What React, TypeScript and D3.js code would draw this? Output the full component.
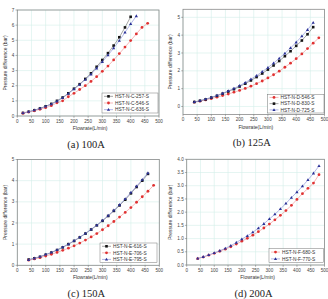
import * as d3 from "d3";

// flow rates (L/min)
const x20to400 = d3.range(20, 401, 20);
const x20to420 = d3.range(20, 421, 20);
const x20to460 = d3.range(20, 461, 20);
const x40to460 = d3.range(40, 461, 20);
const x40to480 = d3.range(40, 481, 20);

// (a) 100A pressure difference (bar)
const hstC257 = [0.2, 0.28, 0.38, 0.5, 0.64, 0.8, 1.0, 1.22, 1.5, 1.8, 2.1, 2.45, 2.82, 3.25, 3.7, 4.15, 4.65, 5.2, 5.85, 6.55];
const hstC546 = [0.18, 0.26, 0.34, 0.44, 0.55, 0.68, 0.87, 1.0, 1.27, 1.5, 1.75, 2.0, 2.28, 2.6, 2.95, 3.3, 3.7, 4.12, 4.55, 4.98, 5.42, 5.85, 6.12];
const hstC636 = [0.2, 0.28, 0.38, 0.5, 0.63, 0.78, 0.97, 1.2, 1.47, 1.77, 2.07, 2.4, 2.75, 3.15, 3.58, 4.02, 4.48, 4.98, 5.52, 6.08, 6.6];

// (b) 125A
const hstD546 = [0.24, 0.3, 0.37, 0.44, 0.52, 0.61, 0.7, 0.8, 0.9, 1.01, 1.14, 1.28, 1.43, 1.6, 1.78, 1.98, 2.2, 2.43, 2.68, 2.95, 3.25, 3.55, 3.85];
const hstD830 = [0.25, 0.32, 0.4, 0.5, 0.6, 0.72, 0.84, 0.97, 1.12, 1.28, 1.46, 1.65, 1.85, 2.07, 2.3, 2.55, 2.82, 3.1, 3.4, 3.7, 4.05, 4.45];
const hstD725 = [0.25, 0.32, 0.41, 0.51, 0.62, 0.74, 0.87, 1.01, 1.17, 1.34, 1.53, 1.73, 1.95, 2.18, 2.43, 2.7, 2.98, 3.28, 3.6, 3.94, 4.3, 4.7];

// (c) 150A
const hstE616 = [0.27, 0.33, 0.4, 0.5, 0.6, 0.72, 0.85, 1.0, 1.15, 1.32, 1.5, 1.69, 1.89, 2.1, 2.33, 2.57, 2.83, 3.1, 3.4, 3.7, 4.0, 4.32];
const hstE706 = [0.24, 0.3, 0.36, 0.44, 0.52, 0.61, 0.71, 0.81, 0.92, 1.05, 1.19, 1.34, 1.5, 1.68, 1.87, 2.07, 2.28, 2.5, 2.73, 2.98, 3.24, 3.5, 3.78];
const hstE795 = [0.26, 0.33, 0.41, 0.51, 0.61, 0.73, 0.86, 1.0, 1.16, 1.33, 1.51, 1.7, 1.9, 2.12, 2.35, 2.6, 2.86, 3.14, 3.44, 3.74, 4.05, 4.36];

// (d) 200A
const hstF680 = [0.24, 0.3, 0.37, 0.44, 0.52, 0.6, 0.69, 0.79, 0.9, 1.01, 1.13, 1.26, 1.4, 1.55, 1.71, 1.88, 2.06, 2.26, 2.48, 2.7, 2.9, 3.1, 3.42];
const hstF770 = [0.25, 0.31, 0.38, 0.46, 0.54, 0.63, 0.73, 0.85, 0.98, 1.1, 1.24, 1.39, 1.56, 1.74, 1.92, 2.12, 2.33, 2.55, 2.76, 2.98, 3.22, 3.47, 3.75];

const xTicks = d3.range(0, 501, 50);

const BLACK = "#141414";
const RED = "#e03232";
const BLUE = "#2a3196";
const LINE = { [BLACK]: "#6a6a6a", [RED]: "#f08a8a", [BLUE]: "#7d86d6" } as Record<string, string>;

type Shape = "square" | "circle" | "triangle";
type Series = { name: string; xs: number[]; ys: number[]; color: string; shape: Shape };

type PanelProps = {
    box: [number, number, number, number]; // left, top, right, bottom
    yDomain: [number, number];
    yTicks: number[];
    yFormat: (v: number) => string;
    series: Series[];
    legend: [number, number, number, number];
    caption: string;
    yLabelX: number;
};

const Marker = ({ x, y, color, shape }: { x: number; y: number; color: string; shape: Shape }) => {
    if (shape === "square") return <rect x={x - 1.3} y={y - 1.3} width={2.6} height={2.6} fill={color} />;
    if (shape === "circle") return <circle cx={x} cy={y} r={1.4} fill={color} />;
    return <path d={`M${x},${y - 1.7}L${x + 1.6},${y + 1.1}L${x - 1.6},${y + 1.1}Z`} fill={color} />;
};

const Panel = ({ box, yDomain, yTicks, yFormat, series, legend, caption, yLabelX }: PanelProps) => {
    const [l, t, r, b] = box;
    const x = d3.scaleLinear().domain([0, 500]).range([l, r]);
    const y = d3.scaleLinear().domain(yDomain).range([b, t]);
    const line = d3.line<[number, number]>().x((d) => x(d[0])).y((d) => y(d[1]));
    const [lx0, ly0, lx1, ly1] = legend;
    const rowH = (ly1 - ly0) / series.length;

    return (
        <g>
            {xTicks.map((v) => (
                <line key={"gx" + v} x1={x(v)} x2={x(v)} y1={t} y2={b} stroke="#d3efe9" strokeWidth={0.6} />
            ))}
            {yTicks.map((v) => (
                <line key={"gy" + v} x1={l} x2={r} y1={y(v)} y2={y(v)} stroke="#d3efe9" strokeWidth={0.6} />
            ))}
            <rect x={l} y={t} width={r - l} height={b - t} fill="none" stroke="#8a8a8a" strokeWidth={0.8} />
            {xTicks.map((v) => (
                <g key={"tx" + v}>
                    <line x1={x(v)} x2={x(v)} y1={b} y2={b + 1.8} stroke="#666" strokeWidth={0.5} />
                    <text x={x(v)} y={b + 6.5} fontSize={4.6} textAnchor="middle" fill="#444">{v}</text>
                </g>
            ))}
            {yTicks.map((v) => (
                <g key={"ty" + v}>
                    <line x1={l - 1.8} x2={l} y1={y(v)} y2={y(v)} stroke="#666" strokeWidth={0.5} />
                    <text x={l - 3} y={y(v) + 1.6} fontSize={4.6} textAnchor="end" fill="#444">{yFormat(v)}</text>
                </g>
            ))}
            <text x={(l + r) / 2 + 2} y={b + 14} fontSize={5} textAnchor="middle" fill="#333">Flowrate(L/min)</text>
            <text transform={`translate(${yLabelX},${(t + b) / 2}) rotate(-90)`} fontSize={5} textAnchor="middle" fill="#333">
                Pressure difference (bar)
            </text>
            {series.map((s) => {
                const pts = s.xs.map((v, i) => [v, s.ys[i]] as [number, number]);
                return (
                    <g key={s.name}>
                        <path d={line(pts) ?? ""} fill="none" stroke={LINE[s.color]} strokeWidth={0.6} />
                        {pts.map((p, i) => (
                            <Marker key={i} x={x(p[0])} y={y(p[1])} color={s.color} shape={s.shape} />
                        ))}
                    </g>
                );
            })}
            <rect x={lx0} y={ly0} width={lx1 - lx0} height={ly1 - ly0} fill="white" stroke="#777" strokeWidth={0.5} />
            {series.map((s, i) => {
                const cy = ly0 + rowH * (i + 0.5);
                return (
                    <g key={"lg" + s.name}>
                        <line x1={lx0 + 2} x2={lx0 + 11} y1={cy} y2={cy} stroke={LINE[s.color]} strokeWidth={0.6} />
                        <Marker x={lx0 + 6.5} y={cy} color={s.color} shape={s.shape} />
                        <text x={lx0 + 13} y={cy + 1.7} fontSize={4.8} fill="#333">{s.name}</text>
                    </g>
                );
            })}
            <text x={(l + r) / 2 - 2} y={b + 31.5} fontSize={10.5} fontFamily="'Liberation Serif', serif" textAnchor="middle" fill="#222">
                {caption}
            </text>
        </g>
    );
};

export default function App() {
    const intFmt = d3.format("d");
    const oneDec = d3.format(".1f");
    return (
        <svg width={328} height={299} style={{ position: "absolute", left: 0, top: 0 }} fontFamily="'Liberation Sans', Arial, sans-serif">
            <rect width={328} height={299} fill="white" />
            <Panel
                box={[17.3, 10, 159, 116]}
                yDomain={[0, 7]}
                yTicks={d3.range(0, 8)}
                yFormat={intFmt}
                legend={[102, 93, 158, 113]}
                caption="(a) 100A"
                yLabelX={7}
                series={[
                    { name: "HST-N-C-257-S", xs: x20to400, ys: hstC257, color: BLACK, shape: "square" },
                    { name: "HST-N-C-546-S", xs: x20to460, ys: hstC546, color: RED, shape: "circle" },
                    { name: "HST-N-C-636-S", xs: x20to420, ys: hstC636, color: BLUE, shape: "triangle" },
                ]}
            />
            <Panel
                box={[183, 9.3, 324.5, 114.5]}
                yDomain={[-0.45, 5.45]}
                yTicks={d3.range(0, 6)}
                yFormat={intFmt}
                legend={[267.5, 94.3, 324, 113]}
                caption="(b) 125A"
                yLabelX={171.5}
                series={[
                    { name: "HST-N-D-546-S", xs: x40to480, ys: hstD546, color: RED, shape: "circle" },
                    { name: "HST-N-D-830-S", xs: x40to460, ys: hstD830, color: BLACK, shape: "square" },
                    { name: "HST-N-D-725-S", xs: x40to460, ys: hstD725, color: BLUE, shape: "triangle" },
                ]}
            />
            <Panel
                box={[17.3, 159.5, 159.3, 265.3]}
                yDomain={[0, 5]}
                yTicks={d3.range(0, 6)}
                yFormat={intFmt}
                legend={[100, 243, 157, 262.7]}
                caption="(c) 150A"
                yLabelX={7}
                series={[
                    { name: "HST-N-E-616-S", xs: x40to460, ys: hstE616, color: BLACK, shape: "square" },
                    { name: "HST-N-E-706-S", xs: x40to480, ys: hstE706, color: RED, shape: "circle" },
                    { name: "HST-N-E-795-S", xs: x40to460, ys: hstE795, color: BLUE, shape: "triangle" },
                ]}
            />
            <Panel
                box={[186.7, 159.3, 324.5, 265]}
                yDomain={[0, 4]}
                yTicks={d3.range(0, 4.01, 0.5)}
                yFormat={oneDec}
                legend={[269, 248.7, 323.5, 262.3]}
                caption="(d) 200A"
                yLabelX={172}
                series={[
                    { name: "HST-N-F-680-S", xs: x40to480, ys: hstF680, color: RED, shape: "circle" },
                    { name: "HST-N-F-770-S", xs: x40to480, ys: hstF770, color: BLUE, shape: "triangle" },
                ]}
            />
        </svg>
    );
}
